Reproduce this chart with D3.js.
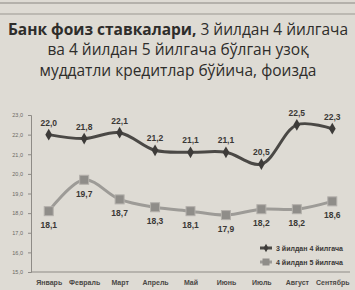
<!DOCTYPE html>
<html>
<head>
<meta charset="utf-8">
<script src="https://cdn.jsdelivr.net/npm/d3@7"></script>
<style>
  body { margin: 0; background: #dedbd4; }
  svg { display: block; }
</style>
</head>
<body>
<div id="chart"></div>
<script>
const months = ["Январь", "Февраль", "Март", "Апрель", "Май", "Июнь", "Июль", "Август", "Сентябрь"];
const rates3to4 = [22.0, 21.8, 22.1, 21.2, 21.1, 21.1, 20.5, 22.5, 22.3];
const rates4to5 = [18.1, 19.7, 18.7, 18.3, 18.1, 17.9, 18.2, 18.2, 18.6];
const yTicks = [15, 16, 17, 18, 19, 20, 21, 22, 23];
const seriesNames = ["3 йилдан 4 йилгача", "4 йилдан 5 йилгача"];

const W = 355, H = 290;
const svg = d3.select("#chart").append("svg")
    .attr("width", W).attr("height", H);

svg.append("rect").attr("width", W).attr("height", H).attr("fill", "#dedbd4");

// page rules at the top
svg.append("line").attr("x1", 0).attr("x2", W).attr("y1", 3).attr("y2", 3)
    .attr("stroke", "#8a8782").attr("stroke-width", 1);
svg.append("line").attr("x1", 0).attr("x2", W).attr("y1", 14).attr("y2", 14)
    .attr("stroke", "#9a9791").attr("stroke-width", 1);

// title
const title = svg.append("g")
    .attr("font-family", "'Open Sans', 'Noto Sans', sans-serif")
    .attr("fill", "#2e2d2b")
    .attr("text-anchor", "middle");
const t1 = title.append("text").attr("x", 178).attr("y", 35).attr("font-size", 15.5);
t1.append("tspan").attr("font-weight", "bold").text("Банк фоиз ставкалари,");
t1.append("tspan").text(" 3 йилдан 4 йилгача");
title.append("text").attr("x", 178).attr("y", 55).attr("font-size", 15.5)
    .text("ва 4 йилдан 5 йилгача бўлган узоқ");
title.append("text").attr("x", 178).attr("y", 76).attr("font-size", 15.5)
    .text("муддатли кредитлар бўйича, фоизда");

const x = d3.scalePoint().domain(months).range([31, 350]).padding(0.5);
const y = d3.scaleLinear().domain([15, 23]).range([272, 115]);

// y axis
const yAxis = svg.append("g")
    .attr("transform", "translate(31,0)")
    .call(d3.axisLeft(y).tickValues(yTicks).tickSize(3)
        .tickFormat(d => d3.format(".1f")(d).replace(".", ",")));
yAxis.select(".domain").attr("stroke", "#8e8b86");
yAxis.selectAll(".tick line").attr("stroke", "#8e8b86");
yAxis.selectAll(".tick text").attr("font-size", 5.5).attr("fill", "#6b6964")
    .attr("font-family", "'Liberation Sans', sans-serif").attr("x", -8);

// x axis
const xAxis = svg.append("g")
    .attr("transform", "translate(0,272)")
    .call(d3.axisBottom(x).tickSize(0).tickPadding(8));
xAxis.select(".domain").attr("stroke", "#8e8b86").attr("d", "M31,0H350");
xAxis.selectAll(".tick text").attr("font-size", 7).attr("fill", "#4a4845")
    .attr("font-family", "'Liberation Sans', sans-serif").attr("font-weight", "bold");

const line = d3.line()
    .x((d, i) => x(months[i]))
    .y(d => y(d))
    .curve(d3.curveCatmullRom.alpha(0.5));

// series 2 (light)
svg.append("path").datum(rates4to5)
    .attr("fill", "none").attr("stroke", "#9d9b97").attr("stroke-width", 3)
    .attr("d", line);
svg.selectAll(".sq").data(rates4to5).enter().append("rect")
    .attr("x", (d, i) => x(months[i]) - 4.5)
    .attr("y", d => y(d) - 4.5)
    .attr("width", 9).attr("height", 9)
    .attr("fill", "#8f8d89").attr("stroke", "#b3b0ab").attr("stroke-width", 1);

// series 1 (dark)
svg.append("path").datum(rates3to4)
    .attr("fill", "none").attr("stroke", "#4a4845").attr("stroke-width", 3)
    .attr("d", line);
svg.selectAll(".dm").data(rates3to4).enter().append("path")
    .attr("transform", (d, i) => `translate(${x(months[i])},${y(d)})`)
    .attr("d", d3.symbol(d3.symbolDiamond, 40))
    .attr("fill", "#3d3b39");

// value labels
const fmt = v => d3.format(".1f")(v).replace(".", ",");
svg.selectAll(".l1").data(rates3to4).enter().append("text")
    .attr("x", (d, i) => x(months[i]))
    .attr("y", d => y(d) - 9)
    .attr("text-anchor", "middle")
    .attr("font-size", 8.5).attr("font-weight", "bold")
    .attr("font-family", "'Liberation Sans', sans-serif")
    .attr("fill", "#3a3836")
    .text(fmt);
svg.selectAll(".l2").data(rates4to5).enter().append("text")
    .attr("x", (d, i) => x(months[i]))
    .attr("y", d => y(d) + 17)
    .attr("text-anchor", "middle")
    .attr("font-size", 8.5).attr("font-weight", "bold")
    .attr("font-family", "'Liberation Sans', sans-serif")
    .attr("fill", "#3a3836")
    .text(fmt);

// legend
const legend = svg.append("g").attr("transform", "translate(260,248)");
seriesNames.forEach((name, i) => {
    const g = legend.append("g").attr("transform", `translate(0,${i * 14})`);
    g.append("line").attr("x1", 0).attr("x2", 12).attr("y1", 0).attr("y2", 0)
        .attr("stroke", i === 0 ? "#4a4845" : "#9d9b97").attr("stroke-width", 3);
    if (i === 0) {
        g.append("path").attr("transform", "translate(6,0)")
            .attr("d", d3.symbol(d3.symbolDiamond, 20)).attr("fill", "#3d3b39");
    } else {
        g.append("rect").attr("x", 2.5).attr("y", -3.5).attr("width", 7).attr("height", 7)
            .attr("fill", "#8f8d89");
    }
    g.append("text").attr("x", 16).attr("y", 2.5)
        .attr("font-size", 7).attr("font-weight", "bold").attr("fill", "#3a3836")
        .attr("font-family", "'Liberation Sans', sans-serif")
        .text(name);
});
</script>
</body>
</html>
